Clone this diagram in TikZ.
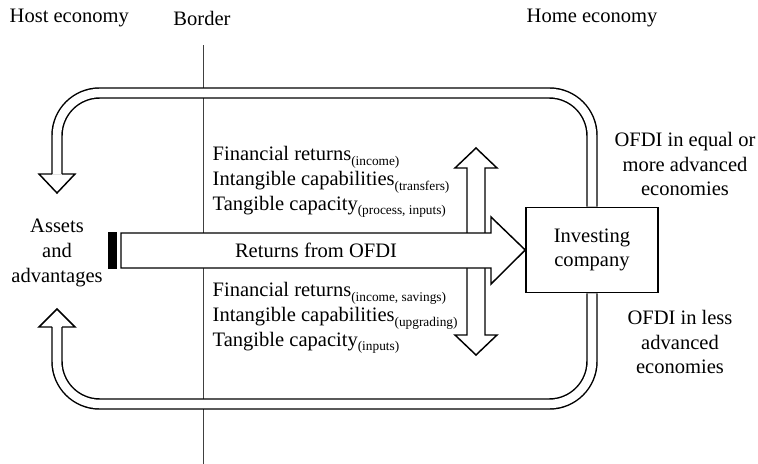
\documentclass[tikz,border=0pt]{standalone}
\usepackage{fontspec}
\setmainfont{Liberation Serif}
\usetikzlibrary{positioning}
\newcommand{\subnote}[1]{{\fontsize{10}{12}\selectfont\raisebox{-3.5pt}{#1}}}

\begin{document}
\begin{tikzpicture}[x=0.75pt, y=-0.75pt,
    font=\fontsize{15.4}{18.5}\selectfont,
    band/.style={draw, line width=1.1pt, double, double distance=6.4pt, rounded corners=32pt},
    block/.style={draw, fill=white, line width=1.1pt, line join=miter},
    head/.style={draw, line width=1.1pt, line join=miter}]
    \useasboundingbox (0,0) rectangle (758,464);

    % border between the two economies
    \coordinate (bordertop) at (203,45);
    \coordinate (borderbot) at (203,464);
    \draw[line width=0.7pt, black!75] (bordertop) -- (borderbot);

    \node[block, minimum width=99pt, minimum height=64pt, align=center] (company) at (592,250) {Investing\\company};

    % up and down arrow
    \draw[block] (467,168) -- (455,168) -- (476,148) -- (497,168) -- (485,168) -- (485,335)
        -- (497,335) -- (476,355) -- (455,335) -- (467,335) -- cycle;

    % returns arrow
    \draw[block] (121,233) -- (491,233) -- (491,217) -- (company.west) -- (491,284) -- (491,268) -- (121,268) -- cycle;
    \filldraw[line width=0.8pt] (109,233) rectangle (116,268);
    \node (returns) at (316,250) {Returns from OFDI};

    % loops back to the host economy
    \coordinate (upend) at (57,174);
    \coordinate (lowend) at (57,327);
    \draw[band] (upend) |- (company.north |- 0,93) -- (company.north);
    \draw[band] (lowend) |- (company.south |- 0,404) -- (company.south);
    \draw[head] (52,174) -- (39,174) -- (57,193) -- (75,174) -- (62,174);
    \draw[head] (52,327) -- (39,327) -- (57,309) -- (75,327) -- (62,327);

    \node (hostlbl) [anchor=west] at (5,18) {Host economy};
    \node (borderlbl) at (202,18) {Border};
    \node (homelbl) at (company.north |- 0,18) {Home economy};

    \node[align=center] (assets) at (57,253) {Assets\\and\\advantages};

    \node[align=left, anchor=west] (upgains) at (208,182)
        {Financial returns\subnote{(income)}\\
         Intangible capabilities\subnote{(transfers)}\\
         Tangible capacity\subnote{(process,\ inputs)}};
    \node[align=left, anchor=west] (lowgains) at (208,318)
        {Financial returns\subnote{(income, savings)}\\
         Intangible capabilities\subnote{(upgrading)}\\
         Tangible capacity\subnote{(inputs)}};

    \node[align=center] (advanced) at (685,164) {OFDI in equal or\\more advanced\\economies};
    \node[align=center] (lessadv) at (680,342) {OFDI in less\\advanced\\economies};
\end{tikzpicture}
\end{document}
